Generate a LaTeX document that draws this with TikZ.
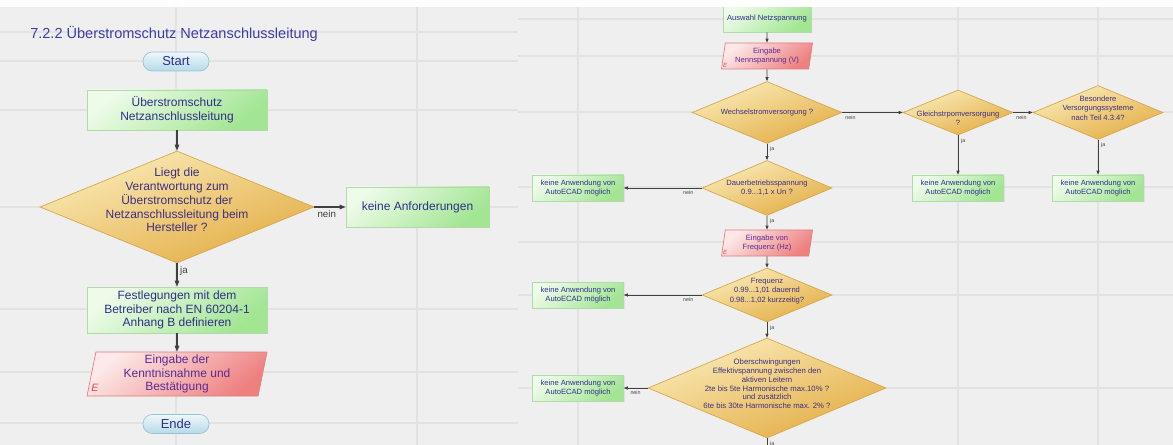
\documentclass[tikz,border=0pt]{standalone}
\usepackage{fontspec}
\setmainfont{Liberation Sans}
\usetikzlibrary{shapes.geometric,arrows.meta,shadows}

\definecolor{paper}{HTML}{EFEFEF}
\definecolor{guide}{HTML}{E2E2E2}
\definecolor{ink}{HTML}{2F2F88}
\definecolor{dink}{HTML}{3F2F80}
\definecolor{pink}{HTML}{5A2C94}
\definecolor{ttlc}{HTML}{3C3CA8}
\definecolor{linec}{HTML}{404040}
\definecolor{boxtop}{HTML}{EDFBE8}
\definecolor{boxbot}{HTML}{A2E593}
\definecolor{boxline}{HTML}{B2D9AA}
\definecolor{diatop}{HTML}{FAEBB8}
\definecolor{diabot}{HTML}{E3AD45}
\definecolor{dialine}{HTML}{D6A649}
\definecolor{inptop}{HTML}{FDE9E9}
\definecolor{inpbot}{HTML}{EE8080}
\definecolor{inpline}{HTML}{E07C7C}
\definecolor{termtop}{HTML}{EEF7FB}
\definecolor{termbot}{HTML}{B5DAE8}
\definecolor{termline}{HTML}{98C3D4}
\definecolor{ered}{HTML}{E24848}

\tikzset{
  box/.style={rectangle, draw=boxline, line width=0.5pt, top color=boxtop, bottom color=boxbot, shading angle=40, text=ink, align=center, drop shadow={opacity=0.12, shadow xshift=1pt, shadow yshift=-1pt}},
  dia/.style={diamond, draw=dialine, line width=0.5pt, top color=diatop, bottom color=diabot, shading angle=20},
  dtext/.style={text=dink, align=center},
  inp/.style={trapezium, trapezium left angle=77, trapezium right angle=103, trapezium stretches body, draw=inpline, line width=0.5pt, top color=inptop, bottom color=inpbot, shading angle=40, text=pink, align=center},
  term/.style={rectangle, rounded corners=7pt, draw=termline, line width=0.5pt, top color=termtop, bottom color=termbot, text=ink, minimum width=49.5pt, minimum height=14.25pt, font=\fontsize{9.75}{11}\selectfont},
  lfttxt/.style={font=\fontsize{9}{10.3}\selectfont},
  rgttxt/.style={font=\fontsize{5.7}{7}\selectfont},
  rgtbox/.style={box, rgttxt, minimum width=68.25pt, minimum height=19.5pt},
  emark/.style={text=ered, font=\itshape\fontsize{8}{8}\selectfont},
  flowL/.style={draw=linec, line width=0.8pt, -{Triangle[length=4.5pt,width=3.4pt]}},
  flowR/.style={draw=linec, line width=0.6pt, -{Triangle[length=3pt,width=2.3pt]}},
  lblL/.style={text=linec, inner sep=2pt, font=\fontsize{7.3}{8}\selectfont},
  lblR/.style={text=linec, inner sep=2pt, font=\fontsize{4}{5}\selectfont}
}

\begin{document}
\begin{tikzpicture}[x=0.75pt,y=-0.75pt]
\tikzstyle{every node}+=[inner sep=0pt]
\clip (0,0) rectangle (1173,445);
\fill[paper] (0,0) rectangle (1173,445);
\foreach \y in {32,61,110,207,309,372,423} \draw[guide, line width=1.1pt] (0,\y) -- (518,\y);
\foreach \x in {176,417} \draw[guide, line width=1.1pt] (\x,7) -- (\x,445);
\foreach \y in {19,56,112,187,242,295,388} \draw[guide, line width=1.1pt] (518,\y) -- (1173,\y);
\foreach \x in {578,958,1098} \draw[guide, line width=1.1pt] (\x,7) -- (\x,445);

\node[anchor=west, text=ttlc, font=\fontsize{10.9}{12}\selectfont] (title) at (30,34) {7.2.2 Überstromschutz Netzanschlussleitung};
\node[term] (start) at (176,61.5) {Start};
\node[box, lfttxt, minimum width=135pt, minimum height=30pt] (uebs) at (177,110) {Überstromschutz\\Netzanschlussleitung};
\node[dia, minimum width=205.5pt, minimum height=84pt] (verant) at (177,207) {};
\node[dtext, lfttxt] (verantT) at (177,200) {Liegt die\\Verantwortung zum\\Überstromschutz der\\Netzanschlussleitung beim\\Hersteller ?};
\node[box, lfttxt, minimum width=107.25pt, minimum height=30pt] (keineanf) at (417.5,207) {keine Anforderungen};
\node[box, lfttxt, minimum width=135pt, minimum height=34.5pt] (festl) at (177,310) {Festlegungen mit dem\\Betreiber nach EN 60204-1\\Anhang B definieren};
\node[inp, lfttxt, minimum width=135pt, minimum height=33pt] (kennt) at (177,374) {Eingabe der\\Kenntnisnahme und\\Bestätigung};
\node[emark] (kenntE) at (95,388) {E};
\node[term] (ende) at (176,424) {Ende};

\draw[flowL] (uebs) -- (verant);
\draw[flowL] (verant) -- node[lblL, pos=0, below right] {nein} (keineanf);
\draw[flowL] (verant) -- node[lblL, pos=0, below right] {ja} (festl);
\draw[flowL] (festl) -- (kennt);

\node[box, rgttxt, minimum width=66pt, minimum height=19.5pt] (ausw) at (767,19) {Auswahl Netzspannung};
\node[inp, rgttxt, minimum width=68.25pt, minimum height=19.5pt] (nennsp) at (767,56) {Eingabe\\Nennspannung (V)};
\node[emark, font=\itshape\fontsize{4.5}{5}\selectfont] (nennspE) at (725,65) {E};
\node[dia, minimum width=112.5pt, minimum height=46.5pt] (wechsel) at (767,112.5) {};
\node[dtext, rgttxt] (wechselT) at (767,113) {Wechselstromversorgung ?};
\node[dia, minimum width=82.5pt, minimum height=33.75pt] (gleich) at (958,112.5) {};
\node[dtext, rgttxt] (gleichT) at (958,118) {Gleichstrpomversorgung\\?};
\node[dia, minimum width=97.5pt, minimum height=40.5pt] (besond) at (1098,112.5) {};
\node[dtext, rgttxt] (besondT) at (1098,108) {Besondere\\Versorgungssysteme\\nach Teil 4.3.4?};
\node[rgtbox] (keinG) at (958,188) {keine Anwendung von\\AutoECAD möglich};
\node[rgtbox] (keinB) at (1098,188) {keine Anwendung von\\AutoECAD möglich};
\node[dia, minimum width=97.5pt, minimum height=41.25pt] (dauer) at (767,188) {};
\node[dtext, rgttxt] (dauerT) at (767,188) {Dauerbetriebsspannung\\0.9...1,1 x Un ?};
\node[rgtbox] (keinD) at (578,188) {keine Anwendung von\\AutoECAD möglich};
\node[inp, rgttxt, minimum width=68.25pt, minimum height=19.5pt] (freqin) at (767,243) {Eingabe von\\Frequenz (Hz)};
\node[emark, font=\itshape\fontsize{4.5}{5}\selectfont] (freqinE) at (725,252) {E};
\node[dia, minimum width=97.5pt, minimum height=40.5pt] (freq) at (767,295) {};
\node[dtext, rgttxt] (freqT) at (767,291) {Frequenz\\0.99...1,01 dauernd\\0.98...1,02 kurzzeitig?};
\node[rgtbox] (keinF) at (578,295) {keine Anwendung von\\AutoECAD möglich};
\node[dia, minimum width=178.5pt, minimum height=75pt] (ober) at (767,388) {};
\node[dtext, font=\fontsize{5.8}{6.6}\selectfont] (oberT) at (767,384) {Oberschwingungen\\Effektivspannung zwischen den\\aktiven Leitern\\2te bis 5te Harmonische max.10\% ?\\und zusätzlich\\6te bis 30te Harmonische max. 2\% ?};
\node[rgtbox] (keinO) at (578,388) {keine Anwendung von\\AutoECAD möglich};
\coordinate (weiter) at (767,470);

\draw[flowR] (ausw) -- (nennsp);
\draw[flowR] (nennsp) -- (wechsel);
\draw[flowR] (wechsel) -- node[lblR, pos=0, below right] {nein} (gleich);
\draw[flowR] (gleich) -- node[lblR, pos=0, below right] {nein} (besond);
\draw[flowR] (gleich) -- node[lblR, pos=0, below right] {ja} (keinG);
\draw[flowR] (besond) -- node[lblR, pos=0, below right] {ja} (keinB);
\draw[flowR] (wechsel) -- node[lblR, pos=0, below right] {ja} (dauer);
\draw[flowR] (dauer) -- node[lblR, pos=0, below left, xshift=-4pt] {nein} (keinD);
\draw[flowR] (dauer) -- node[lblR, pos=0, below right] {ja} (freqin);
\draw[flowR] (freqin) -- (freq);
\draw[flowR] (freq) -- node[lblR, pos=0, below left, xshift=-4pt] {nein} (keinF);
\draw[flowR] (freq) -- node[lblR, pos=0, below right] {ja} (ober);
\draw[flowR] (ober) -- node[lblR, pos=0, below left, xshift=-3pt] {nein} (keinO);
\draw[flowR] (ober) -- node[lblR, pos=0, below right] {ja} (weiter);

\fill[white] (0,0) rectangle (1173,7);
\end{tikzpicture}
\end{document}
